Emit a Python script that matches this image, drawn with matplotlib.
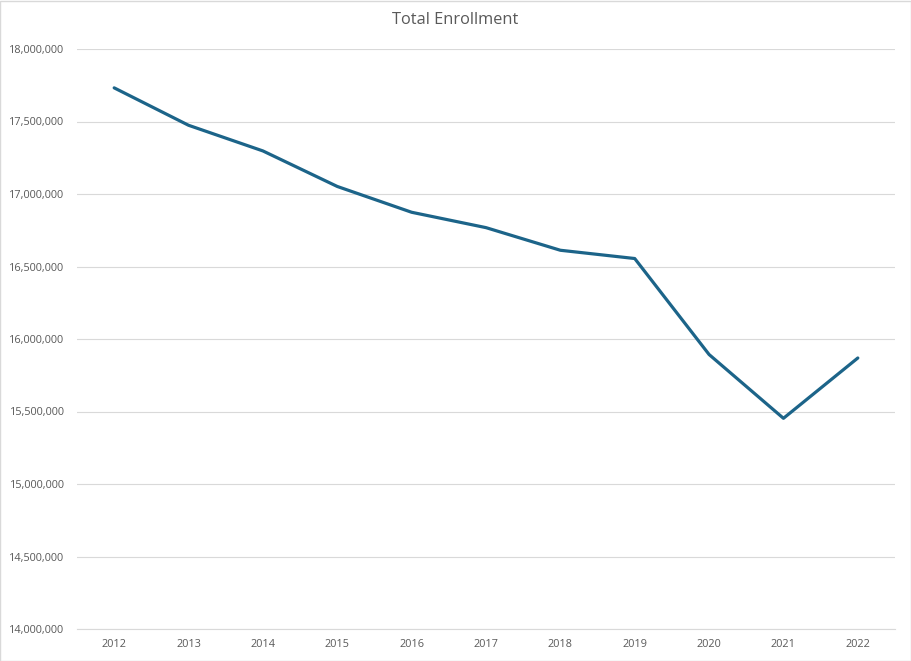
import matplotlib
matplotlib.use("Agg")
import matplotlib.pyplot as plt
from matplotlib.ticker import FuncFormatter, MultipleLocator
from matplotlib.patches import Rectangle

years = ["2012", "2013", "2014", "2015", "2016", "2017", "2018", "2019", "2020", "2021", "2022"]
enrollment = [17732000, 17474000, 17297000, 17052000, 16874000, 16768000,
              16612000, 16555000, 15893000, 15453000, 15869000]

plt.rcParams['font.family'] = ['Open Sans', 'DejaVu Sans']

fig = plt.figure(figsize=(9.12, 6.61), dpi=100)
ax = fig.add_axes([77/912, 1 - 629/661, (895-77)/912, (629-49)/661])

x = list(range(len(years)))
ax.plot(x, enrollment, color="#1c6489", linewidth=2.3, solid_joinstyle="round", solid_capstyle="round", zorder=3)

ax.set_xlim(-0.5, len(years) - 0.5)
ax.set_ylim(14000000, 18000000)
ax.yaxis.set_major_locator(MultipleLocator(500000))
ax.yaxis.set_major_formatter(FuncFormatter(lambda v, p: f"{int(v):,}"))
ax.set_xticks(x)
ax.set_xticklabels(years)

ax.grid(axis="y", color="#d9d9d9", linewidth=0.8)
ax.set_axisbelow(True)
for s in ["top", "right", "left"]:
    ax.spines[s].set_visible(False)
ax.spines["bottom"].set_color("#d9d9d9")
ax.spines["bottom"].set_linewidth(0.8)
ax.tick_params(axis="both", length=0, labelsize=7.8, labelcolor="#595959")
ax.tick_params(axis="x", pad=7)
ax.tick_params(axis="y", pad=9)

fig.text(455/912, 1 - 20/661, "Total Enrollment", ha="center", va="center",
         fontsize=11.8, color="#595959")

fig.patches.append(Rectangle((0.5/912, 0.5/661), 1 - 1.5/912, 1 - 1.5/661,
                             transform=fig.transFigure, fill=False,
                             edgecolor="#d9d9d9", linewidth=1.0))

fig.savefig("out.png", dpi=100)
